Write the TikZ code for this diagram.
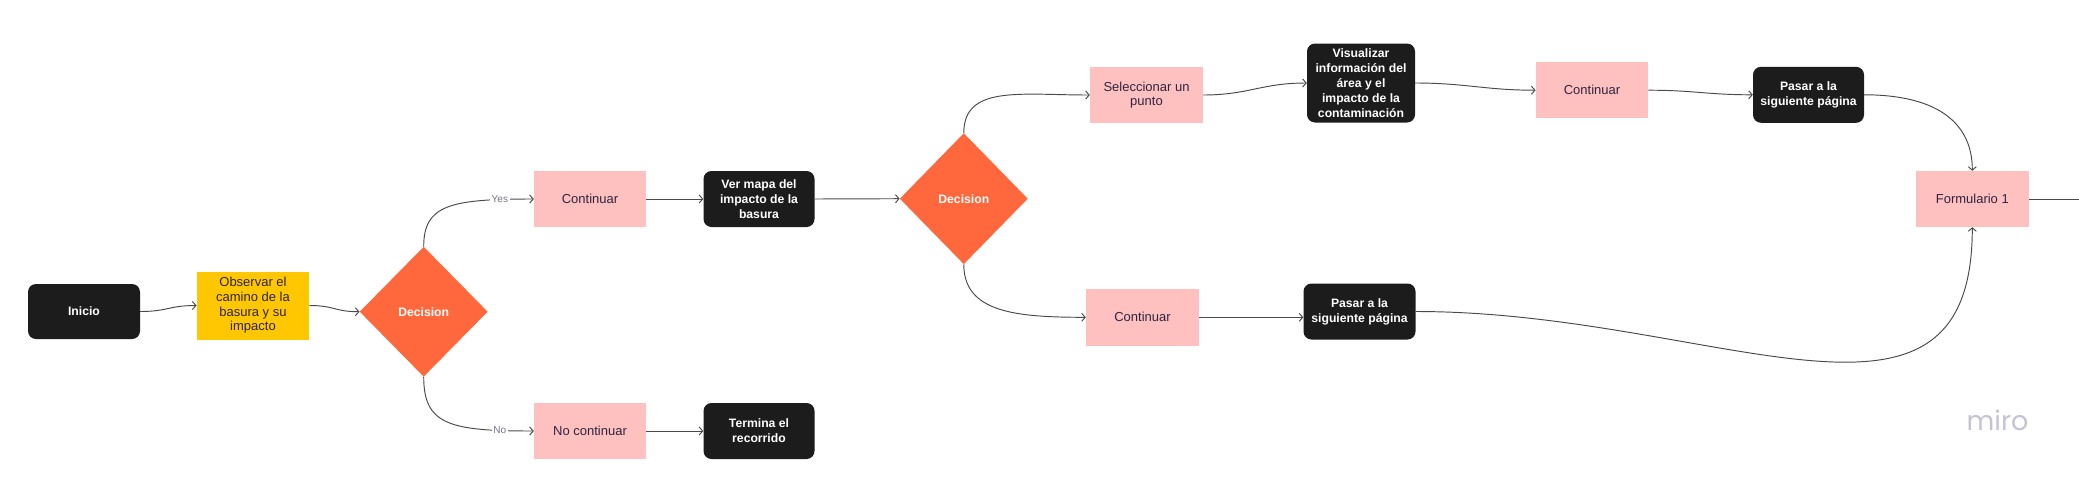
\documentclass[tikz,border=0pt]{standalone}
\usepackage{fontspec}
\setmainfont{Liberation Sans}
\newfontfamily\mirofont{Poppins}
\usetikzlibrary{shapes.geometric,arrows.meta}
\definecolor{nblack}{HTML}{1C1C1C}
\definecolor{npink}{HTML}{FFC0C0}
\definecolor{nyellow}{HTML}{FFC700}
\definecolor{norange}{HTML}{FF683C}
\definecolor{ntext}{HTML}{2E2440}
\definecolor{nline}{HTML}{4A4A4A}
\definecolor{nlabel}{HTML}{77718C}
\definecolor{nmiro}{HTML}{C4C3D4}
\tikzset{
  base/.style={minimum width=112pt, minimum height=56pt, inner sep=2pt, align=center},
  termbox/.style={base, fill=nblack, rounded corners=8pt, text=white, font=\fontsize{12.2}{15}\selectfont\bfseries},
  pinkbox/.style={base, fill=npink, text=ntext, font=\fontsize{13}{14.6}\selectfont},
  yellowbox/.style={base, fill=nyellow, text=ntext, font=\fontsize{13}{14.6}\selectfont},
  decbox/.style={diamond, fill=norange, minimum width=128pt, minimum height=130pt, inner sep=0pt, text=white, font=\fontsize{12.2}{15}\selectfont\bfseries},
  conn/.style={draw=nline, line width=0.95pt, -{Straight Barb[length=3.5pt,width=8pt]}},
  lbl/.style={fill=white, text=nlabel, font=\fontsize{10}{12}\selectfont, inner sep=1.5pt},
}
\begin{document}
\begin{tikzpicture}[x=1pt,y=-1pt]
\fill[white] (0,0) rectangle (2079,480);
\useasboundingbox (0,0) rectangle (2079,480);

\node[termbox, minimum height=55pt] (ini) at (84,311.5) {Inicio};
\node[yellowbox, minimum width=112.5pt, minimum height=68pt] (obs) at (253,305.5) {Observar el\\camino de la\\basura y su\\impacto};
\node[decbox] (d1) at (423.7,311.7) {Decision};
\node[pinkbox] (c1) at (590,199) {Continuar};
\node[pinkbox] (nc) at (590,431) {No continuar};
\node[termbox, minimum width=111pt] (ver) at (759,199) {Ver mapa del\\impacto de la\\basura};
\node[termbox, minimum width=111pt] (ter) at (759,431) {Termina el\\recorrido};
\node[decbox, minimum height=131pt] (d2) at (963.8,198.7) {Decision};
\node[pinkbox, minimum width=113pt] (sel) at (1146.5,95) {Seleccionar un\\punto};
\node[termbox, minimum width=108pt, minimum height=79pt] (vis) at (1361,83) {Visualizar\\información del\\área y el\\impacto de la\\contaminación};
\node[pinkbox, minimum width=113pt, minimum height=57pt] (c2) at (1142.5,317.3) {Continuar};
\node[termbox, minimum width=112pt] (pl) at (1359.5,311.5) {Pasar a la\\siguiente página};
\node[pinkbox, minimum width=112.5pt] (c3) at (1592,90.2) {Continuar};
\node[termbox, minimum width=111pt] (pu) at (1808.5,94.8) {Pasar a la\\siguiente página};
\node[pinkbox, minimum width=112.5pt] (form) at (1972.3,199) {Formulario 1};
\coordinate (rightend) at (2085,199);

\node[text=nmiro, font=\mirofont\fontsize{27}{30}\selectfont, inner sep=0pt] (miro) at (1997.5,420) {miro};

\draw[conn] (ini.east) .. controls +(28,0) and +(-28,0) .. (obs.west);
\draw[conn] (obs.east) .. controls +(25,0) and +(-25,0) .. (d1.west);
\draw[conn] (d1.north) .. controls (423.7,205) and (450,199) .. node[lbl,pos=0.85]{Yes} (c1.west);
\draw[conn] (d1.south) .. controls (423.7,425) and (450,431) .. node[lbl,pos=0.85]{No} (nc.west);
\draw[conn] (c1.east) -- (ver.west);
\draw[conn] (nc.east) -- (ter.west);
\draw[conn] (ver.east) -- (d2.west);
\draw[conn] (d2.north) .. controls +(0,-48) and +(-70,0) .. (sel.west);
\draw[conn] (d2.south) .. controls +(0,48) and +(-70,0) .. (c2.west);
\draw[conn] (sel.east) .. controls +(45,0) and +(-45,0) .. (vis.west);
\draw[conn] (vis.east) .. controls +(50,0) and +(-50,0) .. (c3.west);
\draw[conn] (c3.east) .. controls +(45,0) and +(-45,0) .. (pu.west);
\draw[conn] (c2.east) -- (c2.east -| pl.west);
\draw[conn] (pu.east) .. controls +(70,0) and +(0,-50) .. (form.north);
\draw[conn] (pl.east) .. controls +(300,0) and +(0,242) .. (form.south);
\draw[draw=nline, line width=0.95pt] (form.east) -- (rightend);
\end{tikzpicture}
\end{document}
